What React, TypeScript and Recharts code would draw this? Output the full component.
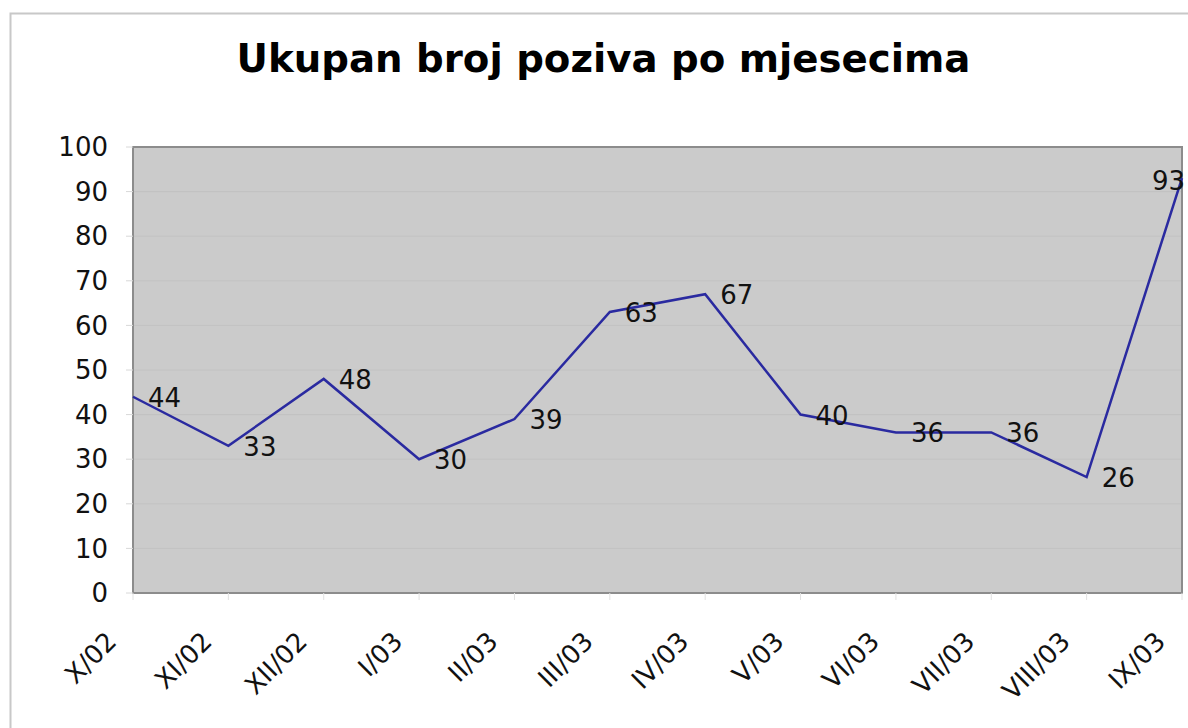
import React from "react";
import {
  LineChart,
  Line,
  XAxis,
  YAxis,
  CartesianGrid,
  ReferenceArea,
  LabelList,
  Customized,
} from "recharts";

const months = ["X/02", "XI/02", "XII/02", "I/03", "II/03", "III/03", "IV/03", "V/03", "VI/03", "VII/03", "VIII/03", "IX/03"];
const calls = [44, 33, 48, 30, 39, 63, 67, 40, 36, 36, 26, 93];
const yTicks = [0, 10, 20, 30, 40, 50, 60, 70, 80, 90, 100];
const title = "Ukupan broj poziva po mjesecima";

const data = months.map((m, i) => ({ month: m, calls: calls[i] }));

const FONT = "'DejaVu Sans', Verdana, sans-serif";
const FS = 26;

const XTick = (props: any) => {
  const { x, y, payload } = props;
  const ax = x - 15;
  const ay = y + 41;
  return (
    <text
      x={ax}
      y={ay}
      transform={`rotate(-45 ${ax} ${ay})`}
      textAnchor="end"
      fontFamily={FONT}
      fontSize={FS}
      fill="#111"
    >
      {payload.value}
    </text>
  );
};

const PointLabel = (props: any) => {
  const { x, y, value, index } = props;
  const last = index === months.length - 1;
  return (
    <text
      x={last ? x - 30 : x + 15}
      y={last ? y + 12 : y + 10}
      fontFamily={FONT}
      fontSize={FS}
      fill="#111"
    >
      {value}
    </text>
  );
};

const Decor = () => (
  <g>
    <rect x={10.5} y={13.5} width={1400} height={900} fill="none" stroke="#c8c8c8" strokeWidth={2} />
    <text
      x={603.5}
      y={72}
      textAnchor="middle"
      fontFamily={FONT}
      fontWeight="bold"
      fontSize={38.7}
      fill="#000"
    >
      {title}
    </text>
  </g>
);

export default function App() {
  return (
    <div style={{ position: "fixed", left: 0, top: 0, width: 1188, height: 728, overflow: "hidden", background: "#fff" }}>
      <LineChart
        width={1188}
        height={728}
        data={data}
        margin={{ top: 147, right: 6, bottom: 0, left: 0 }}
      >
        <Customized component={Decor} />
        <CartesianGrid vertical={false} fill="#cbcbcb" stroke="#c2c2c2" strokeWidth={1} />
        <XAxis
          dataKey="month"
          height={135}
          axisLine={false}
          tickLine={{ stroke: "#e2e2e2" }}
          tickSize={7}
          tickMargin={2}
          interval={0}
          tick={<XTick />}
        />
        <YAxis
          width={133}
          domain={[0, 100]}
          ticks={yTicks}
          interval={0}
          axisLine={false}
          tickLine={{ stroke: "#d8d8d8" }}
          tickSize={7}
          tickMargin={18}
          tick={{ fontFamily: FONT, fontSize: FS, fill: "#111" }}
        />
        <ReferenceArea
          x1={months[0]}
          x2={months[months.length - 1]}
          y1={0}
          y2={100}
          fill="none"
          fillOpacity={0}
          stroke="#8c8c8c"
          strokeWidth={2}
          strokeOpacity={1}
        />
        <Line
          type="linear"
          dataKey="calls"
          stroke="#2a2aa0"
          strokeWidth={2.5}
          dot={false}
          activeDot={false}
          isAnimationActive={false}
        >
          <LabelList dataKey="calls" content={<PointLabel />} />
        </Line>
      </LineChart>
    </div>
  );
}
